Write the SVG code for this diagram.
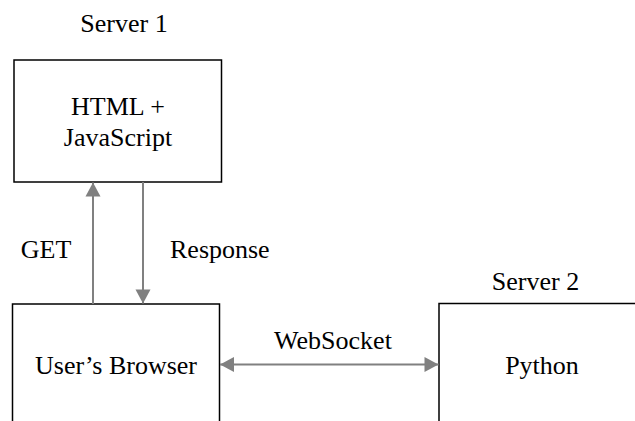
<svg xmlns="http://www.w3.org/2000/svg" width="635" height="421" viewBox="0 0 635 421">
<style>
text{font-family:"Liberation Serif","Times New Roman",serif;font-size:26px;fill:#000}
.box{fill:#fff;stroke:#000;stroke-width:1.5}
.conn{stroke:#808080;stroke-width:2;fill:none}
</style>
<defs>
<marker id="ah" markerUnits="userSpaceOnUse" markerWidth="16" markerHeight="16" viewBox="0 0 16 16" refX="15" refY="8" orient="auto-start-reverse">
<path d="M1,0.5 L15,8 L1,15.5 Z" fill="#808080"/>
</marker>
</defs>
<rect width="635" height="421" fill="#fff"/>
<g id="server1-label"><text x="124" y="32" text-anchor="middle">Server 1</text></g>
<g id="html-js">
<rect class="box" x="14" y="60" width="207.5" height="122"/>
<text x="118" y="115" text-anchor="middle">HTML +</text>
<text x="118" y="146" text-anchor="middle">JavaScript</text>
</g>
<g id="browser">
<rect class="box" x="12.5" y="304" width="207" height="130"/>
<text x="116" y="374" text-anchor="middle">User’s Browser</text>
</g>
<g id="server2-label"><text x="535.5" y="290" text-anchor="middle">Server 2</text></g>
<g id="python">
<rect class="box" x="439" y="303.5" width="220" height="130"/>
<text x="542" y="374" text-anchor="middle">Python</text>
</g>
<g id="connectors">
<line class="conn" x1="93" y1="304" x2="93" y2="182.5" marker-end="url(#ah)"/>
<line class="conn" x1="143" y1="182" x2="143" y2="303.5" marker-end="url(#ah)"/>
<line class="conn" x1="220" y1="364.5" x2="438.5" y2="364.5" marker-start="url(#ah)" marker-end="url(#ah)"/>
<text x="46" y="258" text-anchor="middle">GET</text>
<text x="170" y="258">Response</text>
<text x="333" y="349" text-anchor="middle">WebSocket</text>
</g>
</svg>
